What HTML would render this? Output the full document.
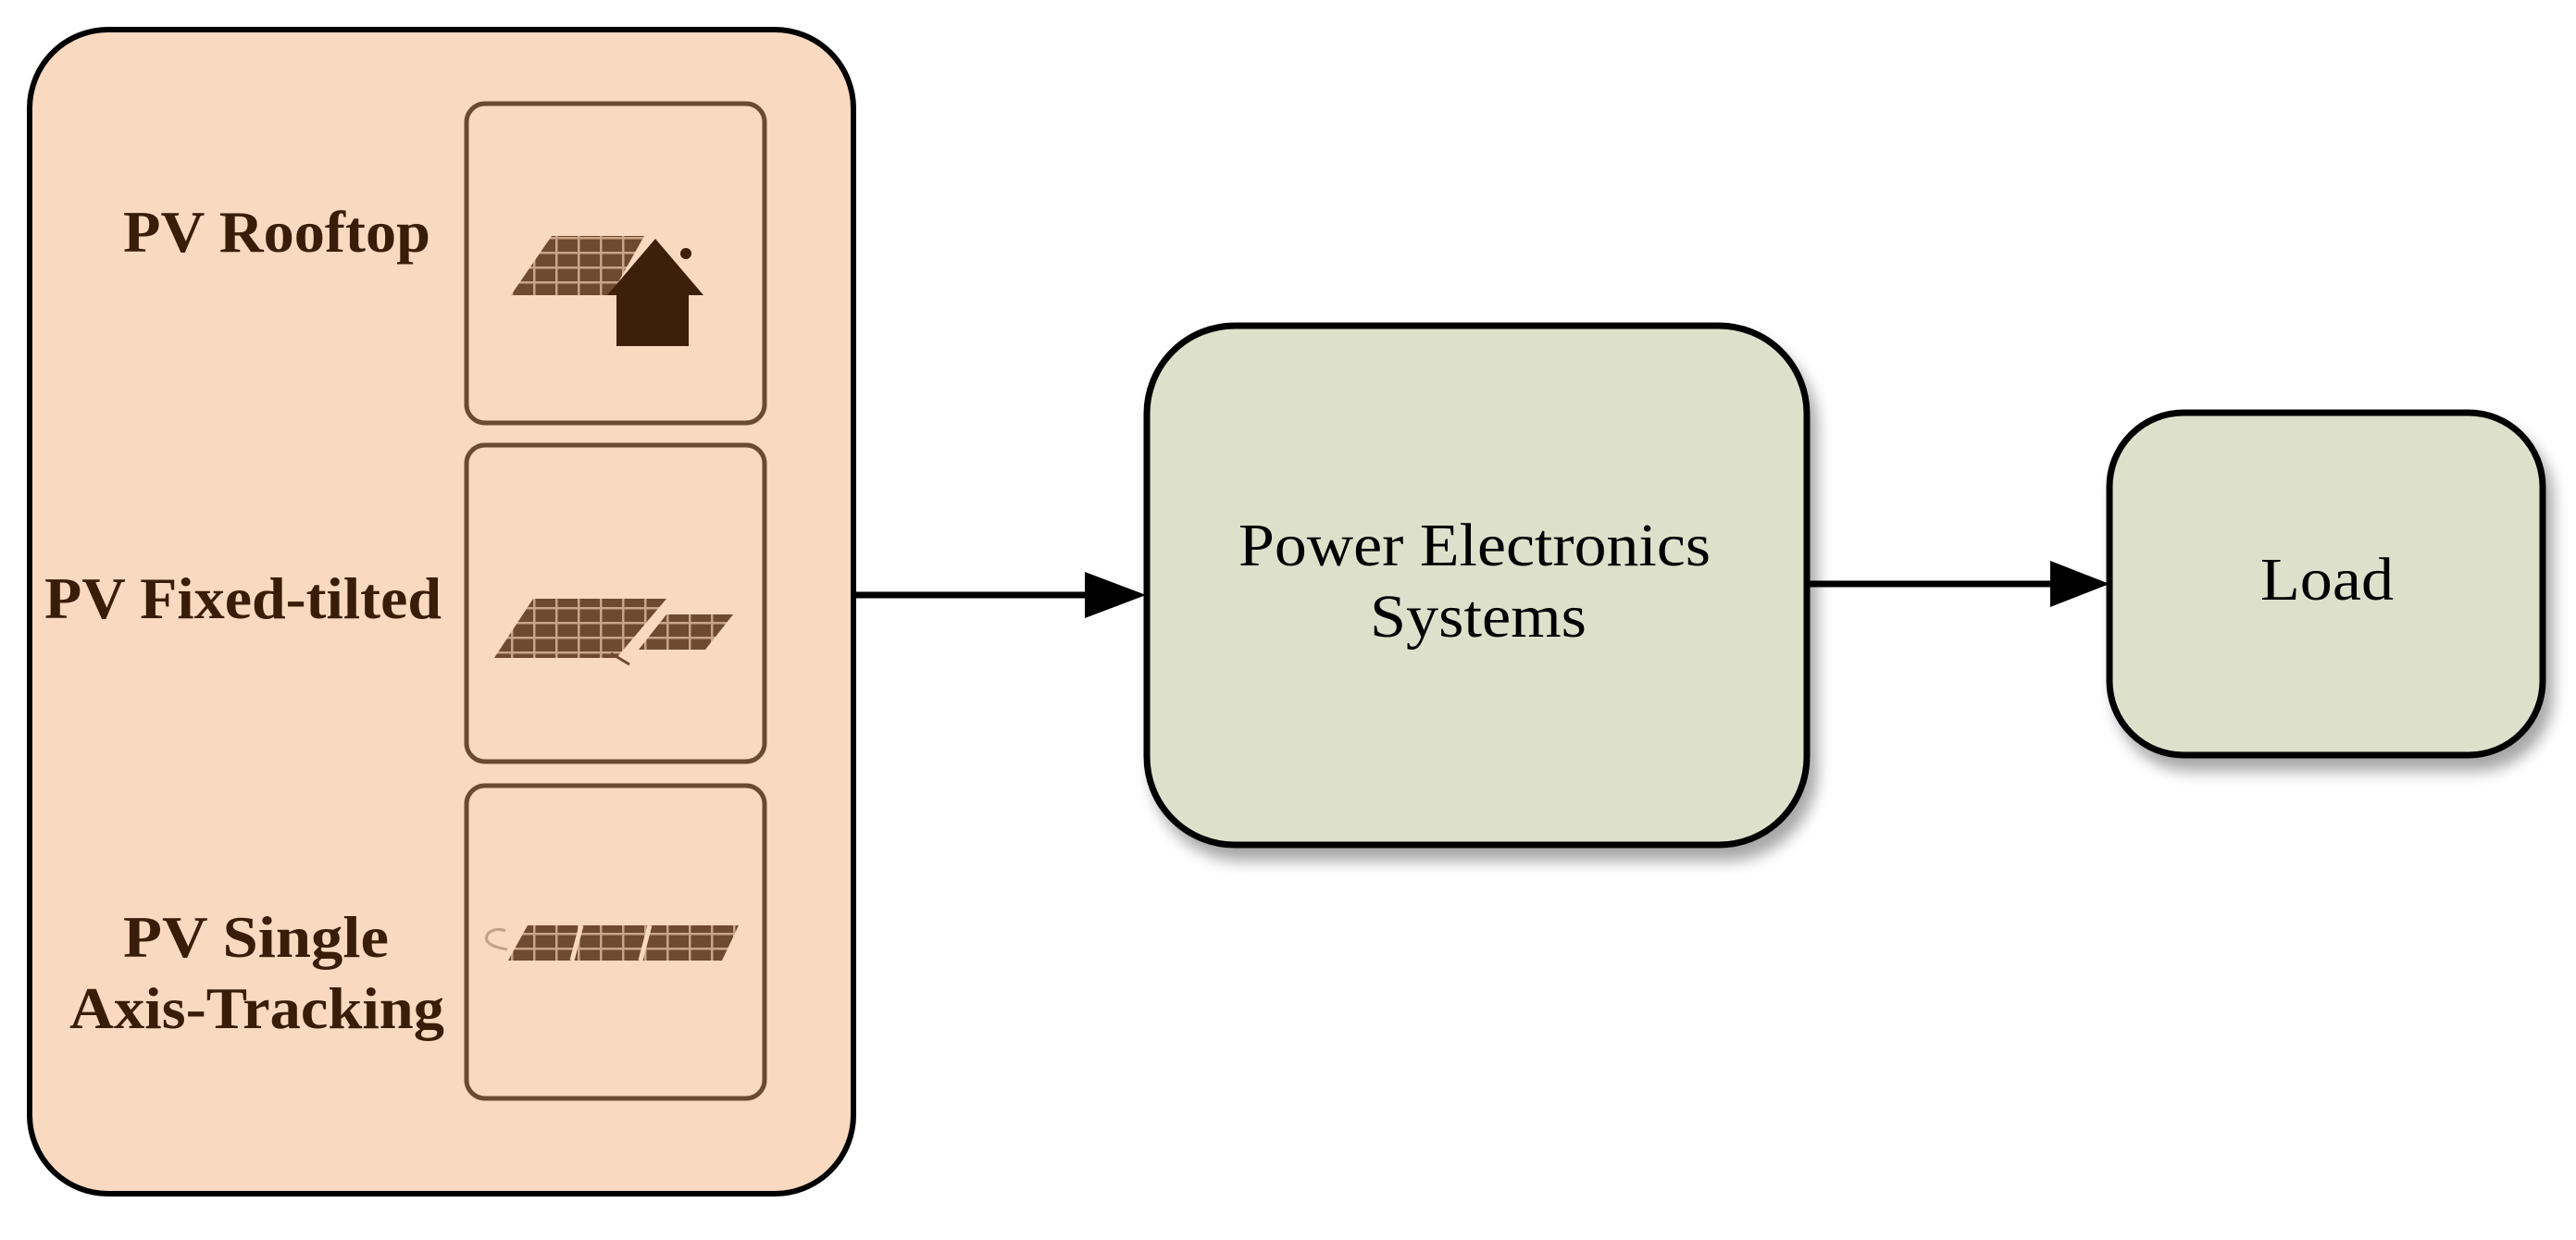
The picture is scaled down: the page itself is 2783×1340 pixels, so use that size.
<!DOCTYPE html>
<html><head><meta charset="utf-8"><style>
html,body{margin:0;padding:0;background:#fff;}
</style></head><body>
<svg width="2783" height="1335" viewBox="0 0 2783 1335" xmlns="http://www.w3.org/2000/svg">
<defs>
<filter id="sh" x="-10%" y="-10%" width="130%" height="130%"><feGaussianBlur in="SourceAlpha" stdDeviation="8"/><feOffset dx="8" dy="14"/><feComponentTransfer><feFuncA type="linear" slope="0.35"/></feComponentTransfer><feMerge><feMergeNode/><feMergeNode in="SourceGraphic"/></feMerge></filter>
<pattern id="grid" width="24" height="16" patternUnits="userSpaceOnUse"><rect width="24" height="16" fill="#6e4a30"/><rect x="0" y="0" width="24" height="2.5" fill="#c9a488"/><rect x="0" y="0" width="2.5" height="16" fill="#c9a488"/></pattern>
</defs>
<rect x="32" y="32" width="890" height="1258" rx="85" fill="#f9d9bf" stroke="#000" stroke-width="6"/>
<rect x="504" y="112" width="322" height="345" rx="20" fill="#f9d9bf" stroke="#6b4a30" stroke-width="5"/>
<rect x="504" y="481" width="322" height="342" rx="20" fill="#f9d9bf" stroke="#6b4a30" stroke-width="5"/>
<rect x="504" y="849" width="322" height="338" rx="20" fill="#f9d9bf" stroke="#6b4a30" stroke-width="5"/>
<g font-family="Liberation Serif, serif" font-weight="bold" font-size="64" fill="#3a1d08">
<text x="133" y="272" textLength="332" lengthAdjust="spacingAndGlyphs">PV Rooftop</text>
<text x="48" y="668" textLength="429" lengthAdjust="spacingAndGlyphs">PV Fixed-tilted</text>
<text x="133" y="1034" textLength="287" lengthAdjust="spacingAndGlyphs">PV Single</text>
<text x="75" y="1111" textLength="405" lengthAdjust="spacingAndGlyphs">Axis-Tracking</text>
</g>
<polygon points="552,319 596,255 696,255 660,319" fill="url(#grid)"/>
<polygon points="708,258 760,319 744,319 744,374 666,374 666,319 656,319" fill="#3d1f0a"/>
<circle cx="741" cy="274" r="6" fill="#3d1f0a"/>
<polygon points="534,711 576,647 720,647 666,711" fill="url(#grid)"/>
<polygon points="690,702 720,664 792,664 762,702" fill="url(#grid)"/>
<line x1="660" y1="706" x2="680" y2="718" stroke="#6e4a30" stroke-width="3"/>
<polygon points="549,1038 570,1000 798,1000 780,1038" fill="url(#grid)"/>
<line x1="628" y1="1000" x2="618" y2="1038" stroke="#f9d9bf" stroke-width="5"/>
<line x1="702" y1="1000" x2="692" y2="1038" stroke="#f9d9bf" stroke-width="5"/>
<path d="M548,1026 q-30,-5 -20,-18 q8,-6 18,-2" stroke="#bfa38a" stroke-width="3" fill="none"/>
<rect x="1239" y="352" width="713" height="561" rx="95" fill="#dde1cb" stroke="#000" stroke-width="7" filter="url(#sh)"/>
<rect x="2279" y="446" width="468" height="370" rx="80" fill="#dde1cb" stroke="#000" stroke-width="7" filter="url(#sh)"/>
<g font-family="Liberation Serif, serif" font-size="66" fill="#000">
<text x="1338" y="611" textLength="510" lengthAdjust="spacingAndGlyphs">Power Electronics</text>
<text x="1480" y="688" textLength="234" lengthAdjust="spacingAndGlyphs">Systems</text>
<text x="2442" y="648" textLength="144" lengthAdjust="spacingAndGlyphs">Load</text>
</g>
<line x1="922" y1="643" x2="1180" y2="643" stroke="#000" stroke-width="7"/>
<polygon points="1172,618 1238,643 1172,668" fill="#000"/>
<line x1="1952" y1="631" x2="2222" y2="631" stroke="#000" stroke-width="7"/>
<polygon points="2215,606 2279,631 2215,656" fill="#000"/>
</svg>
</body></html>
